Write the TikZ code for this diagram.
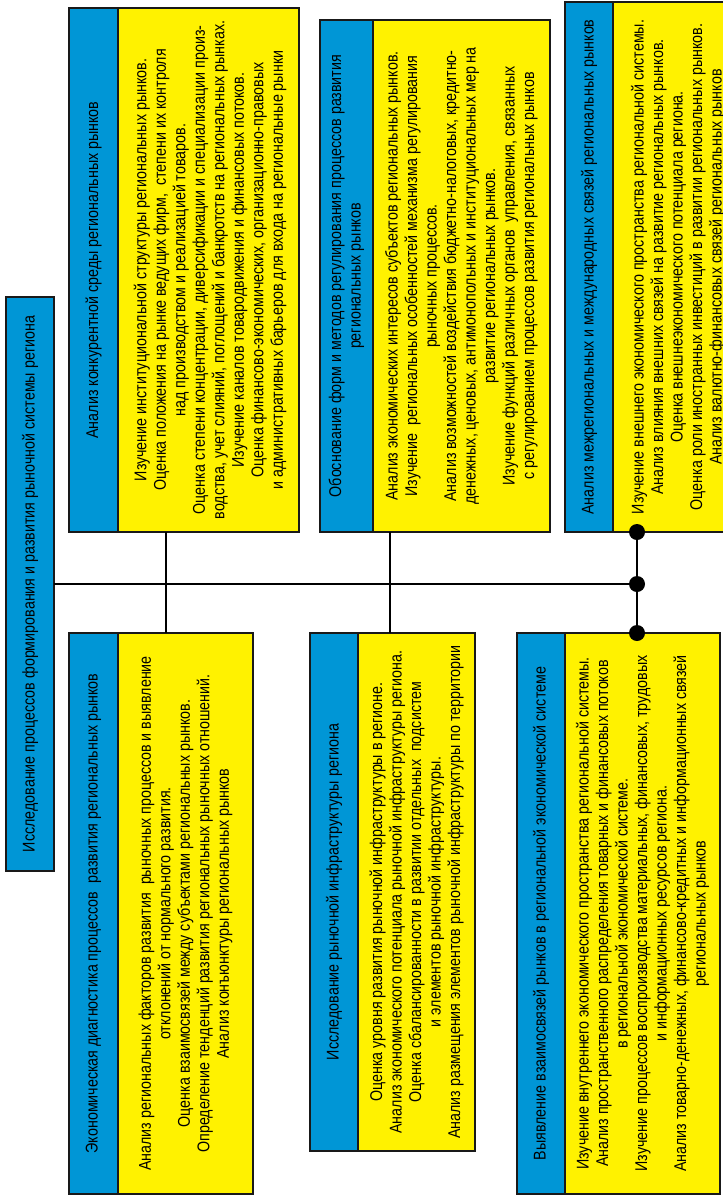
\documentclass[tikz,border=0pt]{standalone}
\usepackage{fontspec}
\setmainfont{Liberation Sans}[FakeStretch=0.84]
\definecolor{hblue}{RGB}{0,150,214}
\definecolor{byel}{RGB}{255,242,0}
\begin{document}
\begin{tikzpicture}[x=1pt,y=-1pt,
  box/.style={draw=black!90, line width=1.4pt, inner sep=0pt, outer sep=0pt},
  hdr/.style={box, fill=hblue},
  bdy/.style={box, fill=byel},
  txt/.style={rotate=90, align=center, inner sep=0pt, font=\fontsize{17}{19.5}\selectfont},
  wire/.style={line width=1.2pt},
  bus/.style={line width=2.6pt},
  dot/.style={circle, fill=black, inner sep=0pt, minimum size=16pt}
]
\clip (0,0) rectangle (723,1195);
\useasboundingbox (0,0) rectangle (723,1195);

% main box
\node[hdr, minimum width=48pt, minimum height=574pt] (m) at (30,584) {};
\node[txt] (mt) at (30,584) {Исследование процессов формирования и развития рыночной системы региона};

% top boxes
\node[hdr, minimum width=49pt, minimum height=524pt] (h1) at (93.5,270) {};
\node[bdy, minimum width=181pt, minimum height=524pt] (b1) at (208.5,270) {};
\node[hdr, minimum width=53pt, minimum height=512pt] (h2) at (346.5,276) {};
\node[bdy, minimum width=177pt, minimum height=512pt] (b2) at (461.5,276) {};
\node[hdr, minimum width=48pt, minimum height=530pt] (h3) at (589,267) {};
\node[bdy, minimum width=117pt, minimum height=530pt] (b3) at (671.5,267) {};

% bottom boxes
\node[hdr, minimum width=49pt, minimum height=561pt] (h4) at (93.5,913.5) {};
\node[bdy, minimum width=135pt, minimum height=561pt] (b4) at (185.5,913.5) {};
\node[hdr, minimum width=48pt, minimum height=518pt] (h5) at (334,892) {};
\node[bdy, minimum width=117pt, minimum height=518pt] (b5) at (416.5,892) {};
\node[hdr, minimum width=48pt, minimum height=561pt] (h6) at (541,913.5) {};
\node[bdy, minimum width=155pt, minimum height=561pt] (b6) at (642.5,913.5) {};

% connectors
\coordinate (j1) at (166,584);
\coordinate (j2) at (390,584);
\node[dot] (d1) at (637,532) {};
\node[dot] (d2) at (637,584) {};
\node[dot] (d3) at (637,633) {};
\draw[bus] (m.east |- d2) -- (d2);
\draw[bus] (d1) -- (d3);
\draw[wire] (j1 |- b1.south) -- (j1 |- b4.north);
\draw[wire] (j2 |- b2.south) -- (j2 |- b5.north);

% texts
\node[txt] (t1) at (93.5,270) {Анализ конкурентной среды региональных рынков};
\node[txt] (s1) at (210,270) {Изучение институциональной структуры региональных рынков.\\
Оценка положения на рынке ведущих фирм,\ \ степени их контроля\\
над производством и реализацией товаров.\\
Оценка степени концентрации, диверсификации и специализации произ-\\
водства, учет слияний, поглощений и банкротств на региональных рынках.\\
Изучение каналов товародвижения и финансовых потоков.\\
Оценка финансово-экономических, организационно-правовых\\
и административных барьеров для входа на региональные рынки};

\node[txt] (t2) at (346.5,276) {Обоснование форм и методов регулирования процессов развития\\региональных рынков};
\node[txt] (s2) at (461.5,276) {Анализ экономических интересов субъектов региональных рынков.\\
Изучение\ \ региональных особенностей механизма регулирования\\
рыночных процессов.\\
Анализ возможностей воздействия бюджетно-налоговых, кредитно-\\
денежных, ценовых, антимонопольных и институциональных мер на\\
развитие региональных рынков.\\
Изучение функций различных органов\ \ управления, связанных\\
с регулированием процессов развития региональных рынков};

\node[txt] (t3) at (589,267) {Анализ межрегиональных и международных связей региональных рынков};
\node[txt] (s3) at (678,267) {Изучение внешнего экономического пространства региональной системы.\\
Анализ влияния внешних связей на развитие региональных рынков.\\
Оценка внешнеэкономического потенциала региона.\\
Оценка роли иностранных инвестиций в развитии региональных рынков.\\
Анализ валютно-финансовых связей региональных рынков};

\node[txt] (t4) at (93.5,913.5) {Экономическая диагностика процессов\ \ развития региональных рынков};
\node[txt] (s4) at (185.5,913.5) {Анализ региональных факторов развития\ \ рыночных процессов и выявление\\
отклонений от нормального развития.\\
Оценка взаимосвязей между субъектами региональных рынков.\\
Определение тенденций развития региональных рыночных отношений.\\
Анализ конъюнктуры региональных рынков};

\node[txt] (t5) at (334,892) {Исследование рыночной инфраструктуры региона};
\node[txt] (s5) at (416.5,892) {Оценка уровня развития рыночной инфраструктуры в регионе.\\
Анализ экономического потенциала рыночной инфраструктуры региона.\\
Оценка сбалансированности в развитии отдельных\ \ подсистем\\
и элементов рыночной инфраструктуры.\\
Анализ размещения элементов рыночной инфраструктуры по территории};

\node[txt] (t6) at (541,913.5) {Выявление взаимосвязей рынков в региональной экономической системе};
\node[txt] (s6) at (642.5,913.5) {Изучение внутреннего экономического пространства региональной системы.\\
Анализ пространственного распределения товарных и финансовых потоков\\
в региональной экономической системе.\\
Изучение процессов воспроизводства материальных, финансовых, трудовых\\
и информационных ресурсов региона.\\
Анализ товарно-денежных, финансово-кредитных и информационных связей\\
региональных рынков};
\end{tikzpicture}
\end{document}
